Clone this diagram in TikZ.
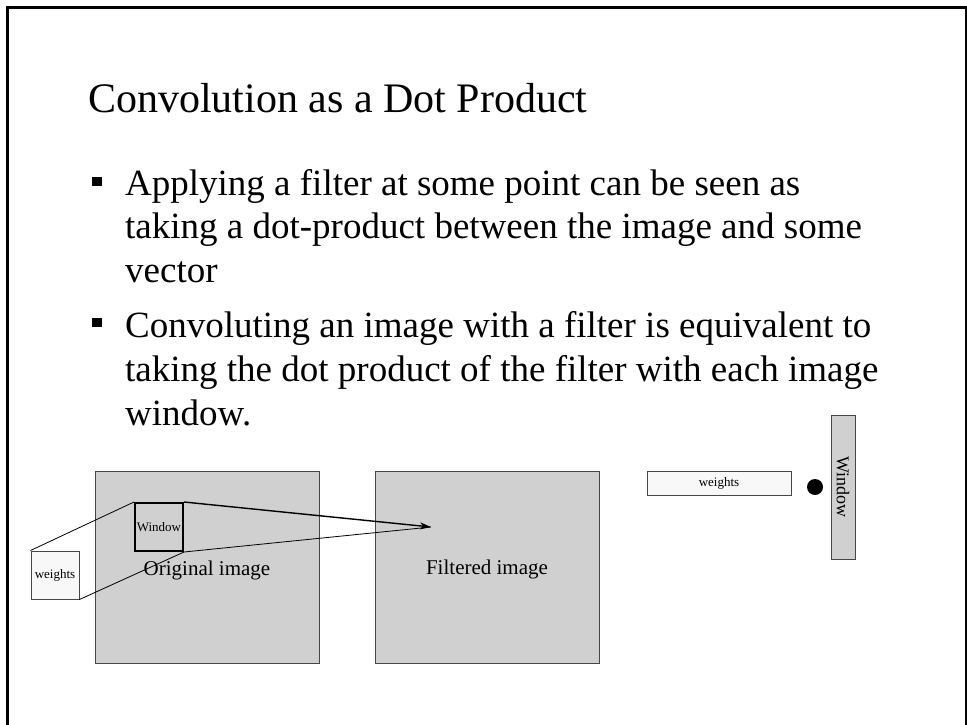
\documentclass[tikz,border=0pt]{standalone}
\usepackage{fontspec}
\setmainfont{Liberation Serif}
\usetikzlibrary{arrows.meta}
\definecolor{boxgray}{RGB}{208,208,208}
\definecolor{edgegray}{RGB}{70,70,70}
\definecolor{paleface}{RGB}{248,248,248}
\begin{document}
\begin{tikzpicture}[x=1pt,y=-1pt,
  txt/.style={inner sep=0pt,anchor=base west,font=\fontsize{37}{44}\selectfont},
  bulletsq/.style={fill=black,inner sep=0pt,minimum size=9.5pt},
  imgbox/.style={draw=edgegray,line width=1pt,fill=boxgray,inner sep=0pt},
  palebox/.style={draw=edgegray,line width=1pt,fill=paleface,inner sep=0pt,font=\fontsize{13}{15}\selectfont},
  lbl/.style={inner sep=0pt,font=\fontsize{21}{24}\selectfont},
  conn/.style={line width=0.8pt}]
\useasboundingbox (0,0) rectangle (967,725);
\draw[line width=2.2pt] (7.5,725) -- (7.5,7.5) -- (966,7.5) -- (966,725);
\node[inner sep=0pt,anchor=base west,font=\fontsize{42}{50}\selectfont] (title) at (88,113) {Convolution as a Dot Product};
% bullet 1
\node[bulletsq] (b1) at (97,181.5) {};
\node[txt] (l1) at (125,195) {Applying a filter at some point can be seen as};
\node[txt] (l2) at (125,238.5) {taking a dot-product between the image and some};
\node[txt] (l3) at (125,282) {vector};
% bullet 2
\node[bulletsq] (b2) at (97,322.5) {};
\node[txt] (l4) at (125,337) {Convoluting an image with a filter is equivalent to};
\node[txt] (l5) at (125,381) {taking the dot product of the filter with each image};
\node[txt] (l6) at (125,425) {window.};
% images
\node[imgbox,minimum width=224pt,minimum height=192pt] (orig) at (207,567) {};
\node[lbl] (origlbl) at (207,570) {Original image};
\node[imgbox,minimum width=224pt,minimum height=192pt] (filt) at (487,567) {};
\node[lbl] (filtlbl) at (487,569) {Filtered image};
\node[draw=black,line width=2pt,minimum width=48pt,minimum height=48pt,inner sep=0pt,font=\fontsize{13}{15}\selectfont] (win) at (159,527) {Window};
\node[palebox,minimum width=48pt,minimum height=48pt] (wts) at (55,575) {weights};
\coordinate (tip) at (431,527);
\draw[conn] (wts.north west) -- (win.north west);
\draw[conn] (wts.south east) -- (win.south east) -- (tip);
\draw[line width=1.4pt,-{Stealth[length=11pt,width=7pt,inset=3pt]}] (win.north east) -- (tip);
% right side
\node[palebox,minimum width=144pt,minimum height=24pt] (wbar) at (719,483) {weights};
\node[circle,fill=black,inner sep=0pt,minimum size=16pt] (dot) at (815,487) {};
\node[imgbox,minimum width=24pt,minimum height=144pt] (winbar) at (843,487) {};
\node[rotate=-90,inner sep=0pt,font=\fontsize{18}{20}\selectfont] (winlbl) at (843,487) {Window};
\end{tikzpicture}
\end{document}
